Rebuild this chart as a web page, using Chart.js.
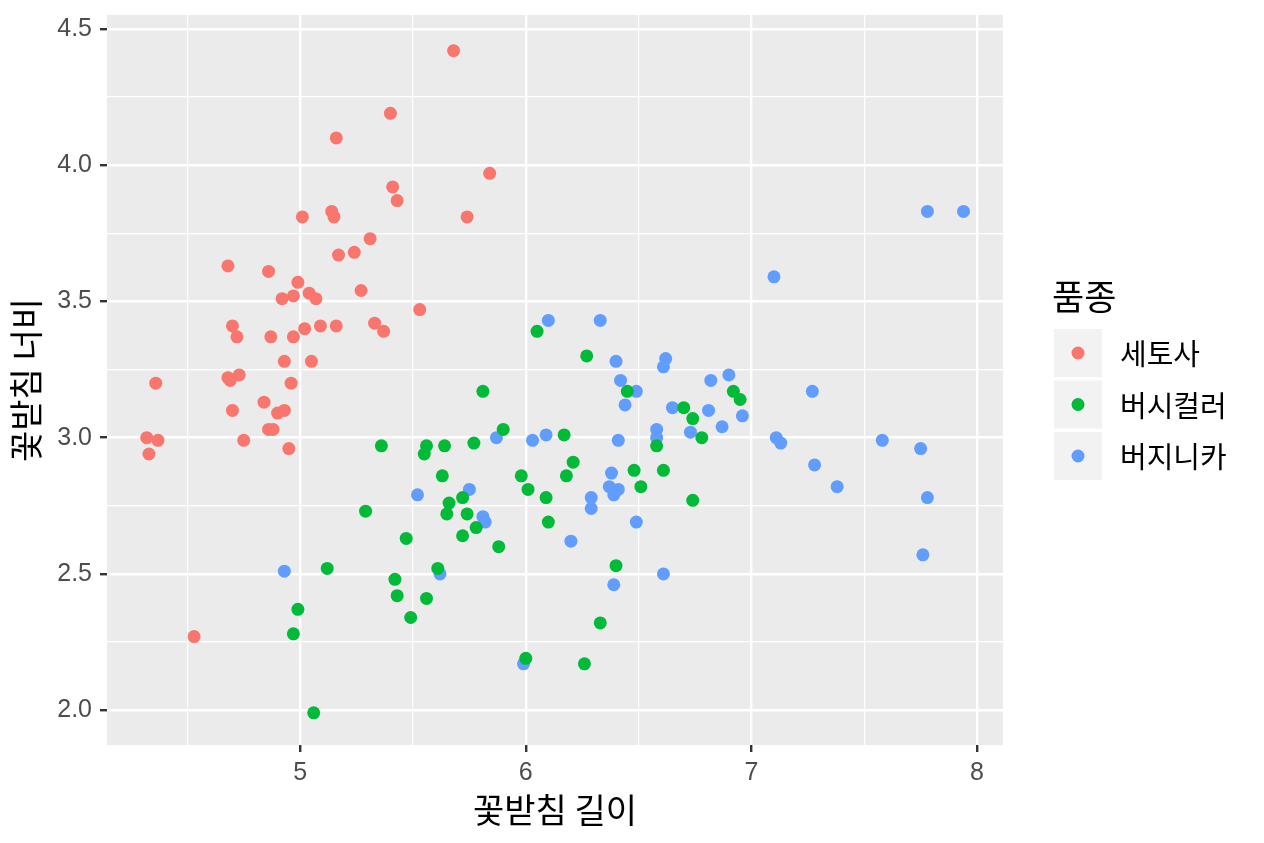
<!DOCTYPE html>
<html>
<head>
<meta charset="utf-8">
<script src="https://cdn.jsdelivr.net/npm/chart.js@4"></script>
<style>
  html, body { margin: 0; padding: 0; background: #fff; }
  #wrap { width: 1264px; height: 843px; }
</style>
</head>
<body>
<div id="wrap"><canvas id="myChart"></canvas></div>
<script>
const ctx = document.getElementById("myChart").getContext("2d");

const species = ["세토사", "버시컬러", "버지니카"];
const colors = ["#F8766D", "#00BA38", "#619CFF"];

// sepal length / sepal width (jittered)
const setosaX = [5.68, 5.40, 5.16, 5.41, 5.84, 5.43, 5.01, 5.14, 5.15, 5.74,
	5.31, 5.17, 5.24, 4.68, 4.86, 5.27, 4.99, 4.92, 4.97, 5.04,
	5.07, 5.53, 4.70, 4.72, 4.87, 5.02, 4.97, 5.09, 5.16, 5.33,
	5.37, 4.36, 4.68, 4.69, 4.73, 4.93, 5.05, 4.84, 4.96, 4.70,
	4.90, 4.93, 4.86, 4.88, 4.32, 4.37, 4.33, 4.75, 4.95, 4.53];
const setosaY = [4.42, 4.19, 4.10, 3.92, 3.97, 3.87, 3.81, 3.83, 3.81, 3.81,
	3.73, 3.67, 3.68, 3.63, 3.61, 3.54, 3.57, 3.51, 3.52, 3.53,
	3.51, 3.47, 3.41, 3.37, 3.37, 3.40, 3.37, 3.41, 3.41, 3.42,
	3.39, 3.20, 3.22, 3.21, 3.23, 3.28, 3.28, 3.13, 3.20, 3.10,
	3.09, 3.10, 3.03, 3.03, 3.00, 2.99, 2.94, 2.99, 2.96, 2.27];

const versicolorX = [6.05, 6.27, 5.81, 6.45, 6.70, 6.74, 6.92, 6.95, 5.90, 6.17,
	6.58, 6.78, 5.36, 5.56, 5.55, 5.64, 5.77, 6.21, 6.18, 5.98,
	5.63, 6.48, 6.61, 6.01, 6.09, 6.51, 6.74, 5.72, 5.66, 5.65,
	5.74, 5.78, 5.29, 5.72, 5.47, 5.88, 6.10, 6.40, 5.12, 5.61,
	5.42, 5.43, 5.56, 5.49, 4.99, 4.97, 6.33, 6.00, 6.26, 5.06];
const versicolorY = [3.39, 3.30, 3.17, 3.17, 3.11, 3.07, 3.17, 3.14, 3.03, 3.01,
	2.97, 3.00, 2.97, 2.97, 2.94, 2.97, 2.98, 2.91, 2.86, 2.86,
	2.86, 2.88, 2.88, 2.81, 2.78, 2.82, 2.77, 2.78, 2.76, 2.72,
	2.72, 2.67, 2.73, 2.64, 2.63, 2.60, 2.69, 2.53, 2.52, 2.52,
	2.48, 2.42, 2.41, 2.34, 2.37, 2.28, 2.32, 2.19, 2.17, 1.99];

const virginicaX = [6.10, 6.33, 6.40, 6.42, 6.49, 6.44, 6.62, 6.61, 6.82, 6.90,
	6.65, 6.81, 6.96, 6.87, 6.73, 6.58, 6.58, 7.11, 7.13, 5.87,
	6.03, 6.09, 6.41, 6.38, 6.37, 6.41, 6.39, 6.29, 6.29, 6.49,
	5.75, 5.52, 5.81, 5.82, 6.20, 4.93, 5.62, 6.39, 6.61, 5.99,
	7.10, 7.78, 7.94, 7.27, 7.58, 7.75, 7.28, 7.38, 7.78, 7.76];
const virginicaY = [3.43, 3.43, 3.28, 3.21, 3.17, 3.12, 3.29, 3.26, 3.21, 3.23,
	3.11, 3.10, 3.08, 3.04, 3.02, 3.03, 3.00, 3.00, 2.98, 3.00,
	2.99, 3.01, 2.99, 2.87, 2.82, 2.81, 2.79, 2.78, 2.74, 2.69,
	2.81, 2.79, 2.71, 2.69, 2.62, 2.51, 2.50, 2.46, 2.50, 2.17,
	3.59, 3.83, 3.83, 3.17, 2.99, 2.96, 2.90, 2.82, 2.78, 2.57];

const xMajor = [5, 6, 7, 8];
const xMinor = [4.5, 5.5, 6.5, 7.5];
const xTickLabels = ["5", "6", "7", "8"];
const yMajor = [2.0, 2.5, 3.0, 3.5, 4.0, 4.5];
const yMinor = [2.25, 2.75, 3.25, 3.75, 4.25];
const yTickLabels = ["2.0", "2.5", "3.0", "3.5", "4.0", "4.5"];

const toPoints = (xs, ys) => xs.map((x, i) => ({ x: x, y: ys[i] }));
const seriesX = [setosaX, versicolorX, virginicaX];
const seriesY = [setosaY, versicolorY, virginicaY];

const datasets = species.map((name, i) => ({
	label: name,
	data: toPoints(seriesX[i], seriesY[i]),
	backgroundColor: colors[i],
	borderWidth: 0,
	pointRadius: 6.5,
	pointHoverRadius: 6.5
}));

const krFont = "'Noto Sans CJK KR', 'Noto Sans', sans-serif";
const numFont = "'Liberation Sans', Arial, sans-serif";

const majorIndex = (list, v) => list.findIndex((m) => Math.abs(m - v) < 1e-9);

const panelBg = {
	id: "panelBg",
	beforeDraw(chart) {
		const a = chart.chartArea;
		const c = chart.ctx;
		c.save();
		c.fillStyle = "#fff";
		c.fillRect(0, 0, chart.width, chart.height);
		c.fillStyle = "#EBEBEB";
		c.fillRect(a.left, a.top, a.right - a.left, a.bottom - a.top);
		c.restore();
	}
};

// ggplot style legend on the right
const sideLegend = {
	id: "sideLegend",
	afterDraw(chart) {
		const c = chart.ctx;
		const left = chart.chartArea.right + 51;
		c.save();
		c.fillStyle = "#000";
		c.font = "35px " + krFont;
		c.textBaseline = "middle";
		c.textAlign = "left";
		c.fillText("품종", left - 2, 297);
		species.forEach((name, i) => {
			const top = 329 + i * 51.5;
			c.fillStyle = "#F2F2F2";
			c.fillRect(left, top, 48, 48);
			c.beginPath();
			c.arc(left + 24, top + 24, 6.5, 0, Math.PI * 2);
			c.fillStyle = colors[i];
			c.fill();
			c.fillStyle = "#000";
			c.font = "29px " + krFont;
			c.fillText(name, left + 66, top + 25);
		});
		c.restore();
	}
};

const gridOpts = (major) => ({
	color: "#FFFFFF",
	lineWidth: (c) => (majorIndex(major, c.tick.value) >= 0 ? 2.4 : 1.2),
	tickColor: (c) => (majorIndex(major, c.tick.value) >= 0 ? "#333333" : "rgba(0,0,0,0)"),
	tickWidth: 2.4,
	tickLength: 7,
	drawTicks: true
});

const chart = new Chart(ctx, {
	type: "scatter",
	data: { datasets: datasets },
	options: {
		responsive: true,
		maintainAspectRatio: false,
		animation: false,
		events: [],
		layout: { padding: { left: 0, top: 15, right: 261, bottom: 0 } },
		plugins: {
			legend: { display: false },
			tooltip: { enabled: false }
		},
		scales: {
			x: {
				type: "linear",
				min: 4.144,
				max: 8.115,
				border: { display: false },
				grid: gridOpts(xMajor),
				afterBuildTicks: (s) => {
					s.ticks = xMinor.concat(xMajor).sort((a, b) => a - b).map((v) => ({ value: v }));
				},
				afterFit: (s) => {
					s.height = 98;
					s.paddingLeft = 0;
					s.paddingRight = 0;
				},
				ticks: {
					autoSkip: false,
					maxRotation: 0,
					padding: 6,
					color: "#4D4D4D",
					font: { family: numFont, size: 25 },
					callback: (v) => {
						const k = majorIndex(xMajor, v);
						return k >= 0 ? xTickLabels[k] : "";
					}
				},
				title: {
					display: true,
					text: "꽃받침 길이",
					color: "#000",
					font: { family: krFont, size: 34 },
					padding: { top: 0, bottom: 13 }
				}
			},
			y: {
				type: "linear",
				min: 1.872,
				max: 4.551,
				border: { display: false },
				grid: gridOpts(yMajor),
				afterBuildTicks: (s) => {
					s.ticks = yMinor.concat(yMajor).sort((a, b) => a - b).map((v) => ({ value: v }));
				},
				afterFit: (s) => {
					s.width = 107;
					s.paddingTop = 0;
					s.paddingBottom = 0;
				},
				ticks: {
					autoSkip: false,
					padding: 8,
					color: "#4D4D4D",
					font: { family: numFont, size: 25 },
					callback: (v) => {
						const k = majorIndex(yMajor, v);
						return k >= 0 ? yTickLabels[k] : "";
					}
				},
				title: {
					display: true,
					text: "꽃받침 너비",
					color: "#000",
					font: { family: krFont, size: 34 },
					padding: { top: 6, bottom: 0 }
				}
			}
		}
	},
	plugins: [panelBg, sideLegend]
});
</script>
</body>
</html>
